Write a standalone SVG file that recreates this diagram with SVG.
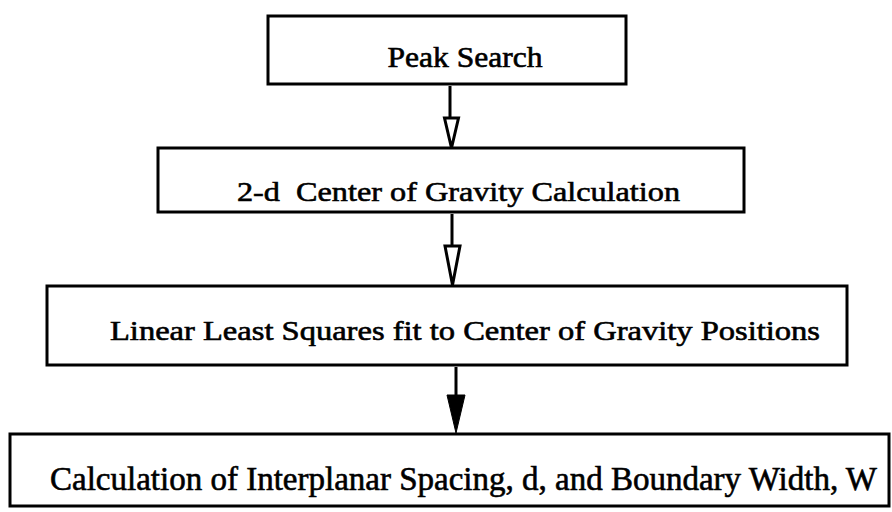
<svg xmlns="http://www.w3.org/2000/svg" width="892" height="512" viewBox="0 0 892 512">
<style>
.box{fill:#fff;stroke:#000;stroke-width:3}
.t{font-family:"Liberation Serif","Times New Roman",serif;fill:#000;stroke:#000;stroke-width:0.6}
.ln{stroke:#000;stroke-width:3;fill:none}
.hh{fill:#fff;stroke:#000;stroke-width:3;stroke-linejoin:miter}
.fh{fill:#000;stroke:#000;stroke-width:1}
</style>
<rect width="892" height="512" fill="#fff"/>
<g id="peak-search">
<rect class="box" x="268" y="16" width="358" height="68"/>
<text class="t" x="465" y="67" font-size="29" text-anchor="middle" textLength="155" lengthAdjust="spacingAndGlyphs">Peak Search</text>
</g>
<g id="center-of-gravity">
<rect class="box" x="158" y="148" width="586" height="64"/>
<text class="t" x="237" y="201" font-size="28" textLength="443" lengthAdjust="spacingAndGlyphs" xml:space="preserve">2-d  Center of Gravity Calculation</text>
</g>
<g id="least-squares">
<rect class="box" x="47" y="286" width="800" height="79"/>
<text class="t" x="110" y="340" font-size="27" textLength="710" lengthAdjust="spacingAndGlyphs">Linear Least Squares fit to Center of Gravity Positions</text>
</g>
<g id="interplanar">
<rect class="box" x="10" y="434" width="879" height="72"/>
<text class="t" x="50" y="490" font-size="33" textLength="827" lengthAdjust="spacingAndGlyphs">Calculation of Interplanar Spacing, d, and Boundary Width, W</text>
</g>
<g id="connectors">
<line class="ln" x1="450" y1="86" x2="450" y2="118"/>
<polygon class="hh" points="444.5,118 458.5,118 451.5,148"/>
<line class="ln" x1="452" y1="214" x2="452" y2="246"/>
<polygon class="hh" points="445,246 460,246 452.5,285"/>
<line class="ln" x1="456" y1="367" x2="456" y2="396"/>
<polygon class="fh" points="447,395 465,395 456,433"/>
</g>
</svg>
